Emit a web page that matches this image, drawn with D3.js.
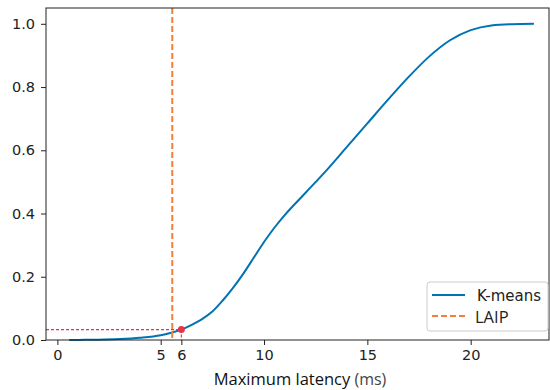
<!DOCTYPE html>
<html>
<head>
<meta charset="utf-8">
<script src="https://cdn.jsdelivr.net/npm/d3@7"></script>
<style>
  body { margin: 0; background: #fff; }
  svg text { font-family: "DejaVu Sans", sans-serif; fill: #222; }
</style>
</head>
<body>
<div id="chart"></div>
<script>
// K-means CDF
var latency = [0.57, 1, 2, 3, 4, 5, 5.5, 6, 6.5, 7, 7.5, 8, 8.5, 9, 9.5, 10, 10.5, 11, 12, 13, 14, 15, 16, 17, 18, 19, 20, 21, 22, 23.06]
var cdf = [0, 0.0003, 0.001, 0.003, 0.007, 0.015, 0.023, 0.033, 0.048, 0.066, 0.09, 0.125, 0.165, 0.21, 0.26, 0.31, 0.355, 0.395, 0.465, 0.535, 0.61, 0.685, 0.76, 0.832, 0.897, 0.948, 0.98, 0.995, 0.999, 1.0]
var laip = 5.56
var marker = { x: 6, y: 0.033 }
var xticks = [0, 5, 6, 10, 15, 20]
var yticks = [0, 0.2, 0.4, 0.6, 0.8, 1.0]
var legend_labels = ["K-means", "LAIP"]

var width = 550, height = 390
var margin = { left: 46, right: 1, top: 8, bottom: 50 }
var blue = "#0173b2", orange = "#f28034", red = "#e8334a"

var svg = d3.select("#chart")
  .append("svg")
  .attr("width", width)
  .attr("height", height)

var x = d3.scaleLinear().domain([-0.55, 23.79]).range([margin.left, width - margin.right])
var y = d3.scaleLinear().domain([0, 1.05]).range([height - margin.bottom, margin.top])

var data = latency.map(function(d, i) { return { x: d, y: cdf[i] } })

// red guide lines
svg.append("line")
  .attr("x1", x.range()[0]).attr("x2", x(marker.x))
  .attr("y1", y(marker.y)).attr("y2", y(marker.y))
  .attr("stroke", red).attr("stroke-width", 1.2).attr("stroke-dasharray", "3,2")
svg.append("line")
  .attr("x1", x(marker.x)).attr("x2", x(marker.x))
  .attr("y1", y(marker.y)).attr("y2", y(0))
  .attr("stroke", red).attr("stroke-width", 1.2).attr("stroke-dasharray", "3,2")

// K-means curve
var line = d3.line()
  .x(function(d) { return x(d.x) })
  .y(function(d) { return y(d.y) })
  .curve(d3.curveMonotoneX)

svg.append("path")
  .datum(data)
  .attr("fill", "none")
  .attr("stroke", blue)
  .attr("stroke-width", 2)
  .attr("d", line)

// LAIP
svg.append("line")
  .attr("x1", x(laip)).attr("x2", x(laip))
  .attr("y1", y.range()[1]).attr("y2", y.range()[0])
  .attr("stroke", orange).attr("stroke-width", 2).attr("stroke-dasharray", "6,3")

svg.append("circle")
  .attr("cx", x(marker.x)).attr("cy", y(marker.y))
  .attr("r", 3.5).attr("fill", red)

// axes
var xAxis = svg.append("g")
  .attr("transform", "translate(0," + y(0) + ")")
  .call(d3.axisBottom(x).tickValues(xticks).tickSize(5).tickPadding(5).tickFormat(d3.format("d")))
var yAxis = svg.append("g")
  .attr("transform", "translate(" + x.range()[0] + ",0)")
  .call(d3.axisLeft(y).tickValues(yticks).tickSize(5).tickPadding(6).tickFormat(d3.format(".1f")))

svg.selectAll(".domain").remove()
svg.selectAll(".tick line").attr("stroke", "#222").attr("stroke-width", 1)
svg.selectAll(".tick text").style("font-size", "14.5px").attr("fill", "#222")

// frame
svg.append("rect")
  .attr("x", x.range()[0]).attr("y", y.range()[1])
  .attr("width", x.range()[1] - x.range()[0])
  .attr("height", y.range()[0] - y.range()[1])
  .attr("fill", "none").attr("stroke", "#222").attr("stroke-width", 1)

// x label
var lab = svg.append("text")
  .attr("x", 300).attr("y", 384.5)
  .attr("text-anchor", "middle")
  .style("font-family", "'Open Sans', sans-serif")
lab.append("tspan").text("Maximum latency").style("font-size", "16.5px").attr("fill", "#111")
lab.append("tspan").text(" (ms)").style("font-size", "16px").attr("fill", "#444")

// legend
var lg = svg.append("g").attr("transform", "translate(427,282)")
lg.append("rect")
  .attr("width", 121).attr("height", 49).attr("rx", 3)
  .attr("fill", "#fff").attr("fill-opacity", 0.85)
  .attr("stroke", "#ccc")
lg.selectAll("line.item")
  .data(legend_labels)
  .enter()
  .append("line")
  .attr("class", "item")
  .attr("x1", 5).attr("x2", 38)
  .attr("y1", function(d, i) { return 13 + i * 21 })
  .attr("y2", function(d, i) { return 13 + i * 21 })
  .attr("stroke", function(d, i) { return i === 0 ? blue : orange })
  .attr("stroke-width", 2)
  .attr("stroke-dasharray", function(d, i) { return i === 0 ? null : "6,3" })
lg.selectAll("text.item")
  .data(legend_labels)
  .enter()
  .append("text")
  .attr("class", "item")
  .attr("x", function(d, i) { return i === 0 ? 50 : 48 })
  .attr("y", function(d, i) { return i === 0 ? 18.5 : 41 })
  .style("font-family", function(d, i) { return i === 0 ? "'DejaVu Sans', sans-serif" : "'Open Sans', sans-serif" })
  .style("font-size", function(d, i) { return i === 0 ? "15px" : "16.5px" })
  .text(function(d) { return d })
</script>
</body>
</html>
